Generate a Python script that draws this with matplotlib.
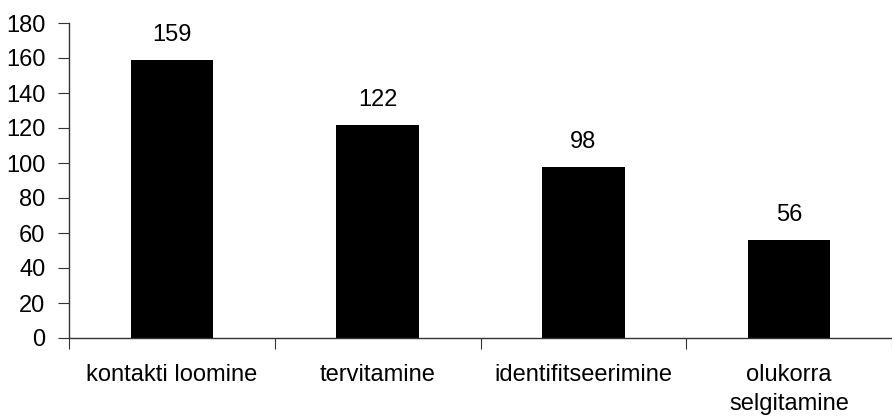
import numpy as np
import matplotlib.pyplot as plt

# Dados do gráfico
kategooriad = ['kontakti loomine', 'tervitamine', 'identifitseerimine', 'olukorra\nselgitamine']
vaartused = [159, 122, 98, 56]
y_ticks = [0, 20, 40, 60, 80, 100, 120, 140, 160, 180]

plt.rcParams['font.family'] = ['Liberation Sans', 'DejaVu Sans']
fs = 17

fig = plt.figure(figsize=(8.92, 4.2), dpi=100)
ax = fig.add_axes([69 / 892, 1 - 338 / 420, 1 - 69 / 892, (338 - 23) / 420])

x = np.arange(len(kategooriad))
bars = ax.bar(x, vaartused, width=0.40, color='black')

# Väärtused tulpade kohal
for b, v in zip(bars, vaartused):
    ax.annotate(str(v), (b.get_x() + b.get_width() / 2, v), xytext=(0, 10),
                textcoords='offset points', ha='center', va='bottom', fontsize=fs)

ax.set_ylim(0, 180)
ax.set_yticks(y_ticks)
ax.set_xlim(-0.5, -0.5 + (892 - 69) / 208)

# Kategooriate nimed keskel, jaotused piiridel
ax.set_xticks(np.arange(len(kategooriad) + 1) - 0.5)
ax.set_xticklabels([])
ax.set_xticks(x, minor=True)
ax.set_xticklabels(kategooriad, minor=True, fontsize=fs, linespacing=1.4)
ax.tick_params(axis='x', which='minor', length=0, pad=19)
ax.tick_params(axis='x', which='major', length=8, direction='out', color='#333333')
ax.tick_params(axis='y', length=8, direction='out', pad=9, labelsize=fs, color='#333333')

for s in ['top', 'right']:
    ax.spines[s].set_visible(False)
for s in ['left', 'bottom']:
    ax.spines[s].set_color('#333333')
    ax.spines[s].set_linewidth(1)

fig.savefig('out.png', dpi=100)
